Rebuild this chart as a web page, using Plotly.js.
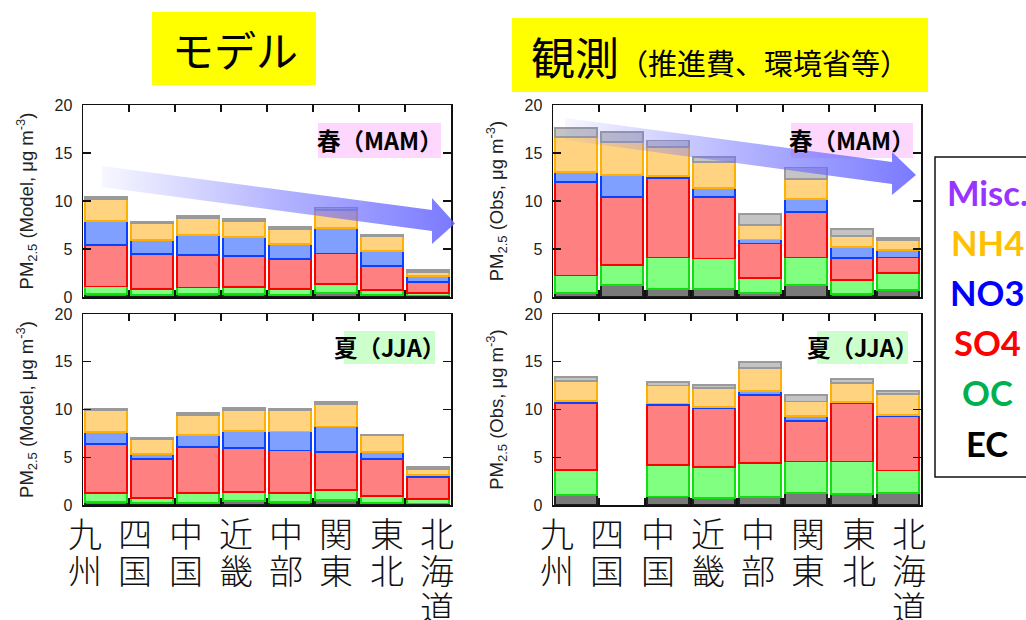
<!DOCTYPE html>
<html>
<head>
<meta charset="utf-8">
<script src="https://cdn.plot.ly/plotly-3.0.1.min.js"></script>
<style>
  html, body { margin: 0; padding: 0; background: #ffffff; }
  #chart { width: 1026px; height: 620px; }
</style>
</head>
<body>
<div id="chart"></div>
<script>
// Regions (west to east / south to north)
const regions = ['九州', '四国', '中国', '近畿', '中部', '関東', '東北', '北海道'];

// Species stacked from the bottom up
const speciesNames = ['EC', 'OC', 'SO4', 'NO3', 'NH4', 'Misc.'];

// Model, spring (MAM), µg m-3
const modelMamEC   = [0.30, 0.25, 0.30, 0.30, 0.25, 0.40, 0.20, 0.15];
const modelMamOC   = [0.80, 0.60, 0.68, 0.75, 0.59, 0.96, 0.57, 0.30];
const modelMamSO4  = [4.30, 3.62, 3.42, 3.24, 3.16, 3.18, 2.48, 1.12];
const modelMamNO3  = [2.55, 1.50, 2.02, 1.96, 1.55, 2.65, 1.57, 0.59];
const modelMamNH4  = [2.25, 1.71, 1.82, 1.67, 1.54, 1.88, 1.50, 0.46];
const modelMamMisc = [0.20, 0.14, 0.21, 0.21, 0.17, 0.25, 0.17, 0.21];

// Observation, spring (MAM)
const obsMamEC   = [0.45, 1.29, 0.87, 0.80, 0.45, 1.29, 0.35, 0.77];
const obsMamOC   = [1.78, 2.06, 3.25, 3.21, 1.54, 2.83, 1.46, 1.71];
const obsMamSO4  = [9.71, 7.05, 8.27, 6.39, 3.59, 4.75, 2.27, 1.64];
const obsMamNO3  = [1.04, 2.30, 0.24, 0.98, 0.42, 1.36, 1.16, 0.77];
const obsMamNH4  = [3.70, 3.43, 2.97, 2.65, 1.50, 2.09, 1.11, 1.04];
const obsMamMisc = [0.95, 1.07, 0.70, 0.56, 1.12, 1.18, 0.74, 0.25];

// Model, summer (JJA)
const modelJjaEC   = [0.30, 0.20, 0.25, 0.42, 0.30, 0.52, 0.20, 0.15];
const modelJjaOC   = [0.92, 0.53, 0.97, 0.94, 0.96, 1.02, 0.71, 0.48];
const modelJjaSO4  = [5.18, 4.10, 4.86, 4.62, 4.44, 4.05, 3.92, 2.34];
const modelJjaNO3  = [1.26, 0.48, 1.23, 1.78, 1.99, 2.63, 0.69, 0.21];
const modelJjaNH4  = [2.24, 1.54, 2.13, 2.21, 2.24, 2.38, 1.75, 0.63];
const modelJjaMisc = [0.17, 0.18, 0.18, 0.17, 0.14, 0.17, 0.10, 0.14];

// Observation, summer (JJA) — no data for 四国
const obsJjaEC   = [1.01, null, 0.90, 0.70, 0.80, 1.22, 1.18, 1.29];
const obsJjaOC   = [2.65, null, 3.25, 3.30, 3.59, 3.34, 3.38, 2.33];
const obsJjaSO4  = [7.04, null, 6.34, 6.10, 7.14, 4.26, 6.07, 5.65];
const obsJjaNO3  = [0.17, null, 0.14, 0.14, 0.42, 0.48, 0.17, 0.17];
const obsJjaNH4  = [2.13, null, 1.88, 2.02, 2.41, 1.54, 1.99, 2.16];
const obsJjaMisc = [0.41, null, 0.38, 0.32, 0.62, 0.69, 0.41, 0.32];

// Legend text, top to bottom
const legendLabels = ['Misc.', 'NH4', 'NO3', 'SO4', 'OC', 'EC'];
const legendColors = ['#9933ff', '#ffc000', '#0000ff', '#ff0000', '#00b050', '#000000'];

// ---------------------------------------------------------------
const W = 1026, H = 620;
const fx = p => p / W;
const fy = p => 1 - p / H;

const fillColors = ['#7a7a7a', '#80ff80', '#ff8080', '#80a0ff', '#ffd380', '#c4c4c4'];
const lineColors = ['#1e1e1e', '#10e010', '#ff0000', '#0a40ff', '#ffb000', '#9a9a9a'];

const panels = [
  { ax: '', series: [modelMamEC, modelMamOC, modelMamSO4, modelMamNO3, modelMamNH4, modelMamMisc],
    xpx: [83, 451], ypx: [105, 297], kind: 'Model' },
  { ax: '2', series: [obsMamEC, obsMamOC, obsMamSO4, obsMamNO3, obsMamNH4, obsMamMisc],
    xpx: [553, 921], ypx: [105, 297], kind: 'Obs' },
  { ax: '3', series: [modelJjaEC, modelJjaOC, modelJjaSO4, modelJjaNO3, modelJjaNH4, modelJjaMisc],
    xpx: [83, 451], ypx: [314, 505], kind: 'Model' },
  { ax: '4', series: [obsJjaEC, obsJjaOC, obsJjaSO4, obsJjaNO3, obsJjaNH4, obsJjaMisc],
    xpx: [553, 921], ypx: [314, 505], kind: 'Obs' }
];

const traces = [];
const layout = {
  width: W, height: H,
  margin: { l: 0, r: 0, t: 0, b: 0 },
  paper_bgcolor: '#ffffff',
  plot_bgcolor: 'rgba(0,0,0,0)',
  barmode: 'stack',
  bargap: 0.1,
  showlegend: false,
  font: { family: 'Liberation Sans, Arial, sans-serif', color: '#222' },
  shapes: [],
  annotations: []
};

panels.forEach(p => {
  p.series.forEach((vals, i) => {
    traces.push({
      type: 'bar',
      name: speciesNames[i],
      x: regions,
      y: vals,
      xaxis: 'x' + p.ax,
      yaxis: 'y' + p.ax,
      marker: { color: fillColors[i], line: { color: lineColors[i], width: 1.8 } },
      hoverinfo: 'skip'
    });
  });
  layout['xaxis' + p.ax] = {
    domain: [fx(p.xpx[0]), fx(p.xpx[1])],
    anchor: 'y' + p.ax,
    type: 'category',
    categoryorder: 'array', categoryarray: regions,
    range: [-0.5, regions.length - 0.5],
    tickson: 'boundaries',
    ticks: 'inside', ticklen: 7, tickwidth: 1.2, tickcolor: '#111',
    showticklabels: false,
    showline: true, linecolor: '#111', linewidth: 1.5, mirror: 'ticks',
    showgrid: false, zeroline: false, fixedrange: true
  };
  layout['yaxis' + p.ax] = {
    domain: [fy(p.ypx[1]), fy(p.ypx[0])],
    anchor: 'x' + p.ax,
    range: [0, 20], dtick: 5, tick0: 0,
    ticks: 'inside', ticklen: 8, tickwidth: 1.2, tickcolor: '#111',
    ticklabelstandoff: 6,
    tickfont: { size: 16, color: '#222' },
    showline: true, linecolor: '#111', linewidth: 1.5, mirror: 'ticks',
    showgrid: false, zeroline: false, fixedrange: true,
    title: {
      text: 'PM<sub>2.5</sub> (' + p.kind + ', μg m<sup>-3</sup>)',
      font: { size: 18.5, color: '#222' },
      standoff: 16
    }
  };
});

// Pixel-space overlay used for the trend arrows
layout.xaxis5 = { domain: [0, 1], anchor: 'y5', range: [0, W], visible: false, fixedrange: true };
layout.yaxis5 = { domain: [0, 1], anchor: 'x5', range: [H, 0], visible: false, fixedrange: true };

const arrows = [
  { x: [102, 432, 432, 455, 432, 432, 102], y: [166, 210, 198, 223.5, 244, 231, 187] },
  { x: [565, 892, 892, 916, 892, 892, 565], y: [118, 162, 152, 175, 195, 184, 140] }
];
arrows.forEach(a => {
  traces.push({
    type: 'scatter', mode: 'lines',
    x: a.x, y: a.y, xaxis: 'x5', yaxis: 'y5',
    fill: 'toself',
    line: { width: 0, color: 'rgba(0,0,0,0)' },
    fillcolor: 'rgba(110,110,255,0.6)',
    fillgradient: {
      type: 'horizontal',
      colorscale: [[0, 'rgba(120,120,255,0.06)'], [0.5, 'rgba(110,110,255,0.52)'], [1, 'rgba(100,100,255,0.86)']]
    },
    hoverinfo: 'skip'
  });
});

// Axes that carry the region name columns below the lower panels
layout.xaxis6 = { domain: [fx(60), fx(462)], anchor: 'y3', range: [-0.5, regions.length - 0.5], visible: false, fixedrange: true };
layout.xaxis7 = { domain: [fx(532), fx(934)], anchor: 'y4', range: [-0.5, regions.length - 0.5], visible: false, fixedrange: true };

['x6', 'x7'].forEach(xr => {
  regions.forEach((name, i) => {
    name.split('').forEach((ch, row) => {
      layout.annotations.push({
        xref: xr, yref: 'paper', x: i, y: fy(532 + row * 37),
        xanchor: 'center', yanchor: 'middle', showarrow: false,
        height: 36,
        text: ch,
        font: { family: 'Noto Sans CJK JP', size: 34, weight: 300, color: '#111' }
      });
    });
  });
});

// Heading boxes
layout.shapes.push(
  { type: 'rect', xref: 'paper', yref: 'paper', layer: 'below',
    x0: fx(152), x1: fx(316), y0: fy(85), y1: fy(12), fillcolor: '#ffff00', line: { width: 0 } },
  { type: 'rect', xref: 'paper', yref: 'paper', layer: 'below',
    x0: fx(512), x1: fx(928), y0: fy(92), y1: fy(18), fillcolor: '#ffff00', line: { width: 0 } }
);
layout.annotations.push(
  { xref: 'paper', yref: 'paper', x: fx(235), y: fy(49), xanchor: 'center', yanchor: 'middle',
    showarrow: false, text: 'モデル',
    font: { family: 'Noto Sans CJK JP', size: 42, color: '#000' } },
  { xref: 'paper', yref: 'paper', x: fx(720), y: fy(56), xanchor: 'center', yanchor: 'middle',
    showarrow: false, text: '観測<span style="font-size:29px">（推進費、環境省等）</span>',
    font: { family: 'Noto Sans CJK JP', size: 44, color: '#000' } }
);

// Season tags
const seasonTags = [
  { text: '春（MAM）', box: [318, 441, 123, 158], bg: '#fdd7fd' },
  { text: '春（MAM）', box: [791, 913, 123, 158], bg: '#fdd7fd' },
  { text: '夏（JJA）', box: [344, 435, 331, 364], bg: '#ccffcc' },
  { text: '夏（JJA）', box: [817, 908, 331, 364], bg: '#ccffcc' }
];
seasonTags.forEach(t => {
  layout.shapes.push({ type: 'rect', xref: 'paper', yref: 'paper', layer: 'below',
    x0: fx(t.box[0]), x1: fx(t.box[1]), y0: fy(t.box[3]), y1: fy(t.box[2]),
    fillcolor: t.bg, line: { width: 0 } });
  layout.annotations.push({ xref: 'paper', yref: 'paper',
    x: fx((t.box[0] + t.box[1]) / 2), y: fy((t.box[2] + t.box[3]) / 2),
    xanchor: 'center', yanchor: 'middle', showarrow: false,
    text: '<b>' + t.text + '</b>',
    font: { family: 'Noto Sans CJK JP', size: 23.5, color: '#000' } });
});

// Species key
layout.shapes.push({ type: 'rect', xref: 'paper', yref: 'paper', layer: 'above',
  x0: fx(935), x1: fx(1032), y0: fy(477), y1: fy(157),
  fillcolor: 'rgba(0,0,0,0)', line: { color: '#111', width: 1.5 } });
legendLabels.forEach((lab, i) => {
  layout.annotations.push({ xref: 'paper', yref: 'paper',
    x: fx(987), y: fy(192 + i * 50.2), xanchor: 'center', yanchor: 'middle', showarrow: false,
    text: '<b>' + lab + '</b>',
    font: { family: 'Lato, sans-serif', size: 34.5, color: legendColors[i] } });
});

Plotly.newPlot('chart', traces, layout, { staticPlot: true, displayModeBar: false });
</script>
</body>
</html>
